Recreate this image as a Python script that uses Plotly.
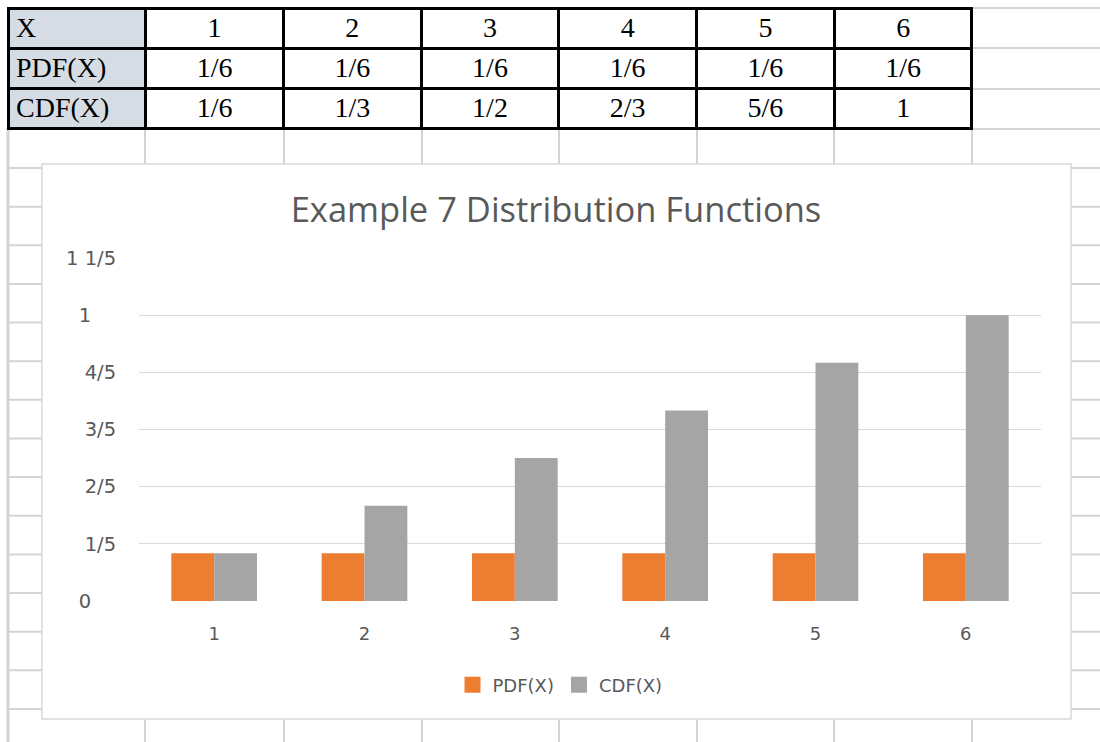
import plotly.graph_objects as go

# ---------------- data ----------------
x_labels = ["1", "2", "3", "4", "5", "6"]
pdf_values = [1/6, 1/6, 1/6, 1/6, 1/6, 1/6]
cdf_values = [1/6, 1/3, 1/2, 2/3, 5/6, 1]
series_names = ["PDF(X)", "CDF(X)"]
table_header = ["X", "1", "2", "3", "4", "5", "6"]
pdf_text = ["1/6", "1/6", "1/6", "1/6", "1/6", "1/6"]
cdf_text = ["1/6", "1/3", "1/2", "2/3", "5/6", "1"]
y_tickvals = [0, 0.2, 0.4, 0.6, 0.8, 1.0, 1.2]
y_ticktext = ["0\u2007\u2007", "1/5", "2/5", "3/5", "4/5", "1\u2007\u2007", "1 1/5"]
title_text = "Example 7 Distribution Functions"

# ---------------- helpers ----------------
W, H = 1100, 742


def px(x):
    return x / W


def py(y):
    return 1 - y / H


ORANGE = "#ED7D31"
GRAY = "#A5A5A5"
TXT = "#595959"
SHEET = "#d4d4d4"
series_colors = [ORANGE, GRAY]

fig = go.Figure()

for name, vals, col in zip(series_names, [pdf_values, cdf_values], series_colors):
    fig.add_trace(go.Bar(x=x_labels, y=vals, name=name, showlegend=False,
                         marker=dict(color=col, line=dict(width=0))))
# legend entries (bigger square keys like Excel)
for name, col in zip(series_names, series_colors):
    fig.add_trace(go.Scatter(x=[None], y=[None], mode="markers", name=name,
                             marker=dict(symbol="square", size=16, color=col)))

# table
label_fill = "#d6dce4"
ncol = len(table_header)
header_fill = [label_fill] + ["white"] * (ncol - 1)
cell_cols = [series_names] + [[pdf_text[i], cdf_text[i]] for i in range(len(pdf_text))]
cell_fill = [[label_fill, label_fill]] + [["white", "white"]] * (ncol - 1)
aligns = ["left"] + ["center"] * (ncol - 1)
tfont = dict(family="Liberation Serif", size=28, color="black")
fig.add_trace(go.Table(
    domain=dict(x=[px(8), px(972)], y=[py(135), py(8)]),
    columnwidth=[1] * ncol,
    header=dict(values=table_header, fill=dict(color=header_fill),
                line=dict(color="black", width=3), font=tfont,
                align=aligns, height=40),
    cells=dict(values=cell_cols, fill=dict(color=cell_fill),
               line=dict(color="black", width=3), font=tfont,
               align=aligns, height=40),
))

# spreadsheet grid + chart box
shapes = []
col_x = [145, 284, 422, 559, 697, 834, 972]
for cx in col_x:
    shapes.append(dict(type="line", xref="paper", yref="paper", layer="below",
                       x0=px(cx), x1=px(cx), y0=py(128), y1=py(742),
                       line=dict(color=SHEET, width=2)))
shapes.append(dict(type="line", xref="paper", yref="paper", layer="below",
                   x0=px(8), x1=px(8), y0=py(128), y1=py(742),
                   line=dict(color=SHEET, width=3)))
for k in range(15):
    yy = 168 + 38.64 * k
    shapes.append(dict(type="line", xref="paper", yref="paper", layer="below",
                       x0=px(8), x1=px(1100), y0=py(yy), y1=py(yy),
                       line=dict(color=SHEET, width=2)))
for yy in [8, 48, 89, 129]:
    shapes.append(dict(type="line", xref="paper", yref="paper", layer="below",
                       x0=px(972), x1=px(1100), y0=py(yy), y1=py(yy),
                       line=dict(color=SHEET, width=2)))
shapes.append(dict(type="rect", xref="paper", yref="paper", layer="below",
                   x0=px(42), x1=px(1071), y0=py(719), y1=py(164),
                   fillcolor="white", line=dict(color="#d9d9d9", width=1.5)))

fig.update_layout(
    width=W, height=H,
    margin=dict(l=0, r=0, t=0, b=0, autoexpand=False),
    paper_bgcolor="white",
    plot_bgcolor="rgba(0,0,0,0)",
    barmode="group",
    bargap=0.43,
    bargroupgap=0,
    shapes=shapes,
    title=dict(text=title_text, x=px(556), xanchor="center", y=py(210), yanchor="middle",
               font=dict(family="Open Sans", size=34.5, color=TXT)),
    legend=dict(orientation="h", x=px(560), xanchor="center", y=py(685), yanchor="middle",
                font=dict(family="DejaVu Sans", size=18, color=TXT),
                bgcolor="rgba(0,0,0,0)", itemwidth=30),
    xaxis=dict(domain=[px(139), px(1041)], anchor="y", showgrid=False, zeroline=False,
               showline=False, ticks="outside", ticklen=16, tickcolor="rgba(0,0,0,0)",
               automargin=False,
               tickfont=dict(family="DejaVu Sans", size=18, color=TXT)),
    yaxis=dict(domain=[py(601), py(258)], anchor="x", range=[0, 1.2],
               tickvals=y_tickvals, ticktext=y_ticktext, automargin=False,
               showgrid=True, gridcolor="#d9d9d9", gridwidth=1.3, zeroline=False,
               showline=False, ticks="outside", ticklen=18, tickcolor="rgba(0,0,0,0)",
               tickfont=dict(family="DejaVu Sans", size=19.5, color=TXT)),
)

fig.write_html("out.html", post_script="document.body.style.margin='0';",
               config={"displayModeBar": False})
